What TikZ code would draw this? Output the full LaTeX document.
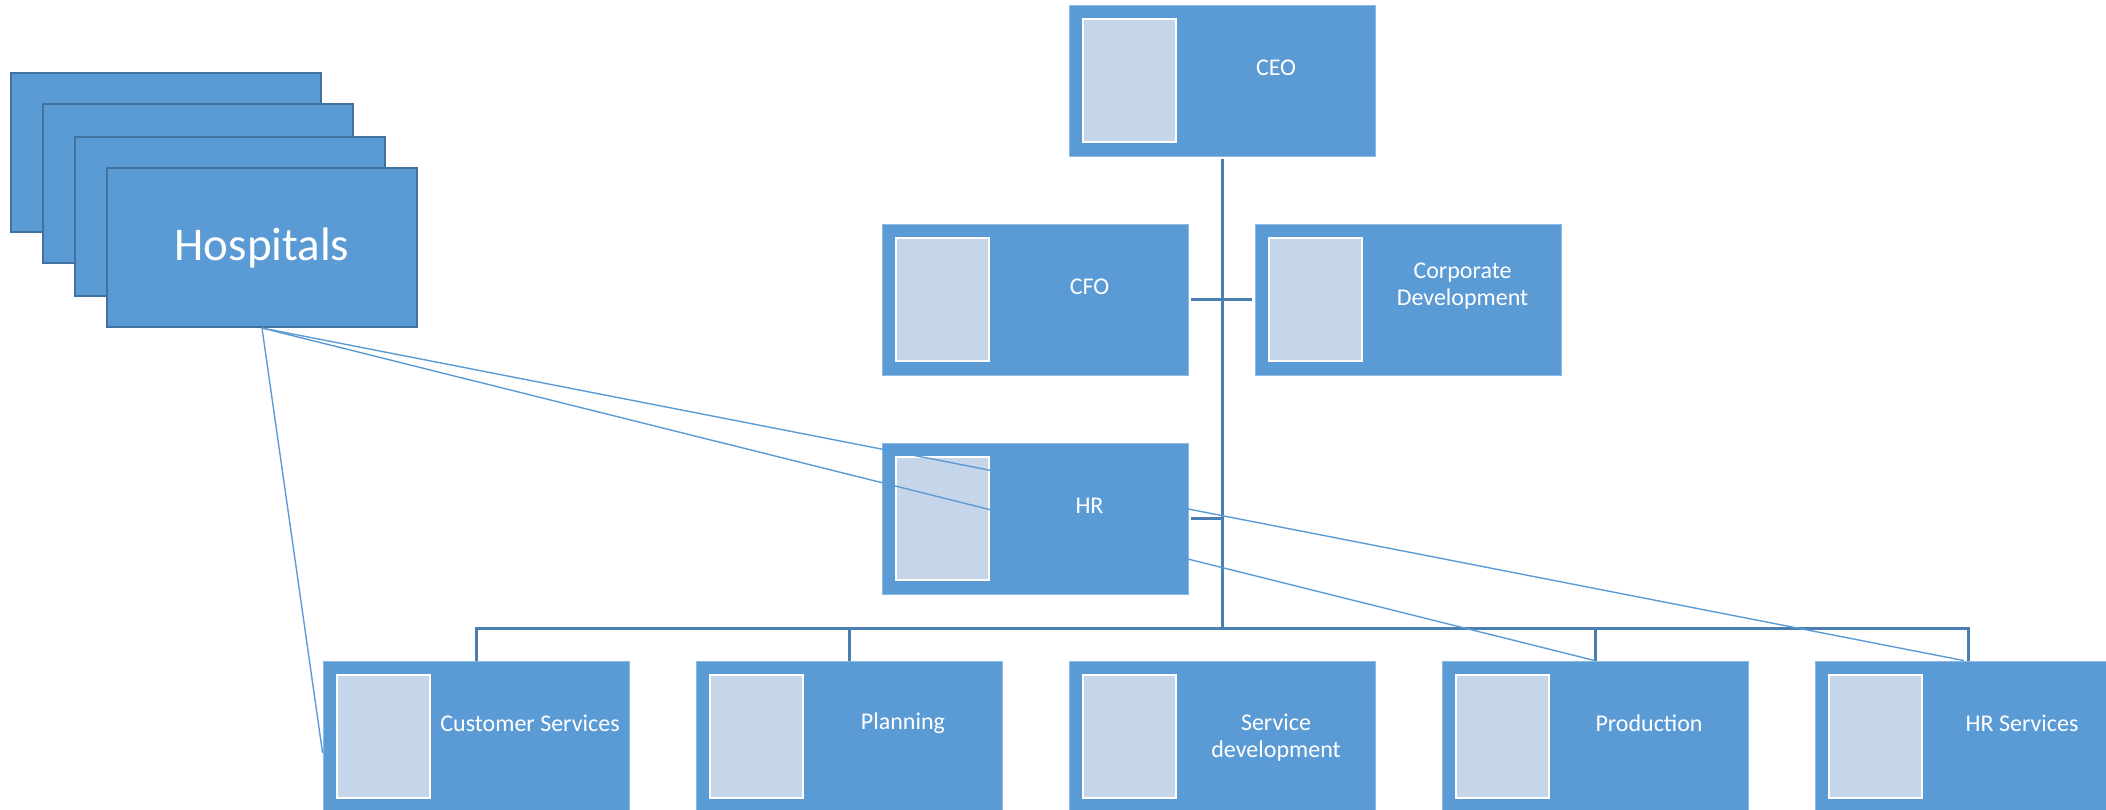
\documentclass[tikz,border=0pt]{standalone}
\usepackage{fontspec}
\setmainfont{Carlito}
\usetikzlibrary{calc}
\definecolor{boxblue}{HTML}{5B9BD5}
\definecolor{darkblue}{HTML}{41719C}
\definecolor{trunkblue}{HTML}{4A7DB0}
\definecolor{picblue}{HTML}{C5D5EA}
\tikzset{
  hosp/.style={draw=darkblue, line width=2pt, fill=boxblue, minimum width=310pt,
    minimum height=159pt, inner sep=0pt, text=white, font=\fontsize{47}{56}\selectfont},
  orgbox/.style={fill=boxblue, draw=boxblue!70!white, line width=0.8pt,
    minimum width=306pt, minimum height=151pt, inner sep=0pt},
  picbox/.style={fill=picblue, draw=white, line width=2.2pt, minimum width=93pt,
    minimum height=123pt, inner sep=0pt, anchor=north west},
  orgtext/.style={text=white, font=\fontsize{24}{27}\selectfont, align=center, inner sep=0pt},
  trunk/.style={draw=trunkblue, line width=3pt},
  hline/.style={draw=boxblue, line width=1.4pt}
}
\newcommand\orgunit[5]{%
  \node[orgbox] (#1) at (#2,#3) {};
  \node[picbox] (#1-pic) at ([xshift=13pt,yshift=-13pt]#1.north west) {};
  \node[orgtext] (#1-txt) at ([xshift=54pt,yshift=#5]#1.center) {#4};
}
\begin{document}
\begin{tikzpicture}[x=1pt,y=-1pt]
\useasboundingbox (0,0) rectangle (2106,809);
\clip (0,0) rectangle (2106,809);

% Hospitals stack
\node[hosp] (h1) at (165.5,152) {};
\node[hosp] (h2) at (198,183.5) {};
\node[hosp] (h3) at (230,216) {};
\node[hosp] (h4) at (262,247.5) {Hospitals};

% Org chart boxes
\orgunit{ceo}{1222}{80.5}{CEO}{13pt}
\orgunit{cfo}{1035.5}{299.5}{CFO}{13pt}
\orgunit{corp}{1408.5}{299.5}{Corporate\\Development}{13pt}
\orgunit{hr}{1035.5}{518.5}{HR}{13pt}
\orgunit{b1}{476}{736.5}{Customer Services}{13pt}
\orgunit{b2}{849}{736.5}{Planning}{13pt}
\orgunit{b3}{1222}{736.5}{Service\\development}{-1pt}
\orgunit{b4}{1595}{736.5}{Production}{13pt}
\orgunit{b5}{1968}{736.5}{HR Services}{13pt}

% Connectors
\coordinate (bus) at (1222,628);
\draw[trunk] ([yshift=-3pt]ceo.south) -- (bus);
\draw[trunk] ([xshift=2pt]cfo.east) -- ([xshift=-3pt]corp.west);
\draw[trunk] ([xshift=2pt]hr.east) -- (hr.east -| bus);
\draw[trunk] (b1.north) |- (bus) -| (b5.north);
\draw[trunk] (b2.north) -- (b2.north |- bus);
\draw[trunk] (b4.north) -- (b4.north |- bus);

% Hospital links
\draw[hline] (h4.south) -- ([yshift=-16.5pt]b1.west);
\draw[hline] (h4.south) -- (b4.north);
\draw[hline] (h4.south) -- ([xshift=-4pt]b5.north);
\end{tikzpicture}
\end{document}
